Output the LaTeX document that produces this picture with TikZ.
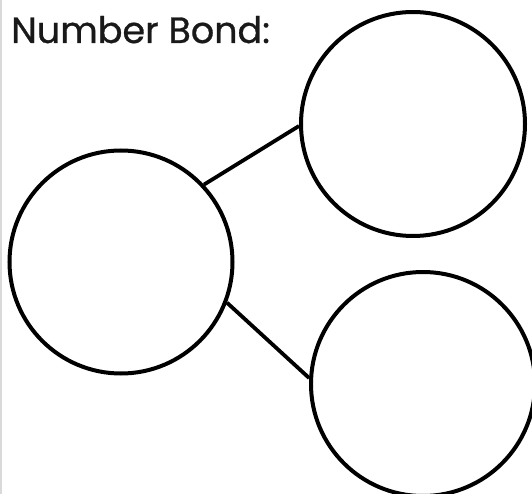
\documentclass[tikz,border=0pt]{standalone}
\usepackage{fontspec}
\setmainfont{Poppins}
\newfontfamily\titlefont[FakeBold=0.8]{Poppins}
\begin{document}
\begin{tikzpicture}[x=1pt,y=-1pt,
  bond/.style={circle,draw=black,line width=4pt,minimum size=#1,inner sep=0pt},
  link/.style={draw=black,line width=3.8pt}]
\useasboundingbox (0,0) rectangle (532,494);
\clip (0,0) rectangle (532,494);
\fill[white] (0,0) rectangle (532,494);
\draw[gray!30,line width=1.5pt] (0.75,0) -- (0.75,494);
\node[anchor=base west,inner sep=0pt,font=\titlefont\fontsize{36.5}{37}\selectfont,text=black!90] (title) at (11,43) {Number Bond:};
\node[bond=223pt] (whole) at (121,262) {};
\node[bond=224pt] (parta) at (413,124) {};
\node[bond=224pt] (partb) at (423,384) {};
\draw[link] (whole.43) -- (parta.181);
\draw[link] (whole.-21) -- (partb.177);
\end{tikzpicture}
\end{document}
